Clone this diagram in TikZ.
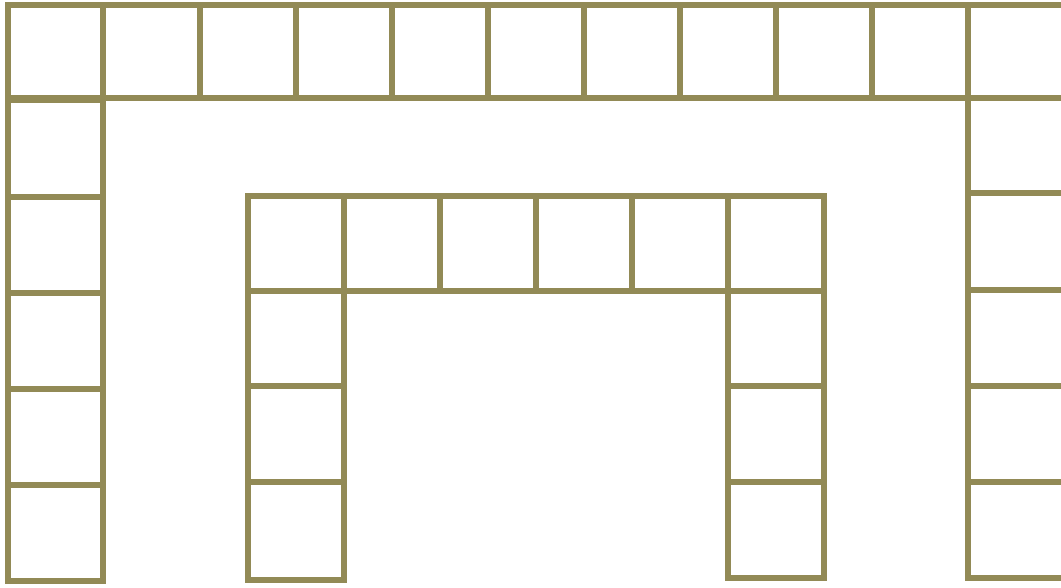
\documentclass[tikz,border=0pt]{standalone}
\definecolor{olive}{RGB}{146,138,86}
\begin{document}
\begin{tikzpicture}[x=1pt,y=-1pt,
  cell/.style={draw=olive,line width=5.5pt,line join=miter}]
\useasboundingbox (0,0) rectangle (1061,587);
\clip (0,0) rectangle (1061,587);
% outer top row
\foreach \a/\b in {8/103,103/200,200/296,296/392,392/488,488/584,584/680,680/776,776/872,872/968,968/1068}
  \draw[cell] (\a,5) rectangle (\b,98);
% outer left column
\foreach \a/\b in {100/197,197/293,293/389,389/485,485/581}
  \draw[cell] (8,\a) rectangle (103,\b);
% outer right column
\foreach \a/\b in {98/193,193/290,290/386,386/482,482/578}
  \draw[cell] (968,\a) rectangle (1068,\b);
% inner top row
\foreach \a/\b in {248/344,344/440,440/536,536/632,632/728,728/824}
  \draw[cell] (\a,196) rectangle (\b,291);
% inner left column
\foreach \a/\b in {291/386,386/482,482/580}
  \draw[cell] (248,\a) rectangle (344,\b);
% inner right column
\foreach \a/\b in {291/386,386/482,482/578}
  \draw[cell] (728,\a) rectangle (824,\b);
\end{tikzpicture}
\end{document}
